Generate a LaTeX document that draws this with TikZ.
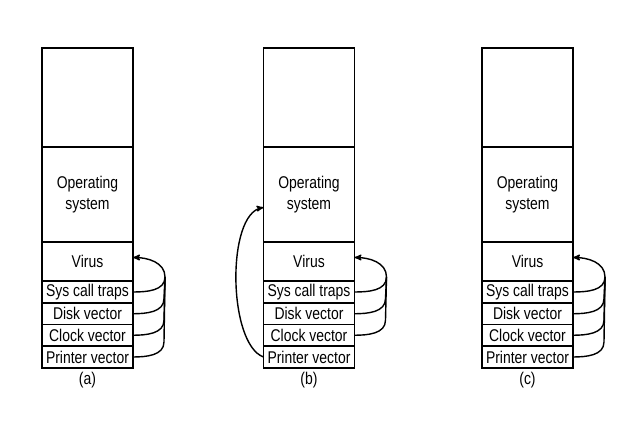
\documentclass[tikz,border=0pt]{standalone}
\usepackage{fontspec}
\setmainfont{Liberation Sans}[FakeStretch=0.82]
\usetikzlibrary{arrows,positioning,calc}
\tikzset{
	every node/.style={font=\fontsize{17}{21}\selectfont},
	memblock/.style={
		draw,
		line width=1.6pt,
		minimum width=91pt,
		inner sep=0pt,
		outer sep=0pt,
		align=center
	},
	vecline/.style={
		draw,
		line width=1.4pt,
		>=stealth'
	}
}
\begin{document}
\begin{tikzpicture}[x=1pt,y=1pt]
	\useasboundingbox (0,0) rectangle (619,435);

	% (a)
	\node[memblock, minimum height=99pt] (freea) at (87.5,337.5) {};
	\node[memblock, minimum height=95pt, below=0pt of freea] (osa) {Operating\\system};
	\node[memblock, minimum height=39pt, below=0pt of osa] (virusa) {Virus};
	\node[memblock, minimum height=22pt, below=0pt of virusa] (trapsa) {Sys call traps};
	\node[memblock, minimum height=21.5pt, below=0pt of trapsa] (diska) {Disk vector};
	\node[memblock, minimum height=21.5pt, below=0pt of diska] (clocka) {Clock vector};
	\node[memblock, minimum height=22pt, below=0pt of clocka] (printa) {Printer vector};
	\node[below=1pt of printa] (laba) {(a)};

	\coordinate (hooka) at ($(trapsa.east)+(32,15)$);
	\draw[vecline,->] (trapsa.east) to[out=0,in=-90] (hooka) to[out=90,in=0] ([yshift=4pt]virusa.east);
	\draw[vecline] (diska.east) to[out=0,in=-90] ++(31,15) -- (hooka);
	\draw[vecline] (clocka.east) to[out=0,in=-90] ++(31,15) -- (hooka);
	\draw[vecline] (printa.east) to[out=0,in=-90] ++(31,15) -- (hooka);

	% (b)
	\node[memblock, minimum height=99pt] (freeb) at (309,337.5) {};
	\node[memblock, minimum height=95pt, below=0pt of freeb] (osb) {Operating\\system};
	\node[memblock, minimum height=39pt, below=0pt of osb] (virusb) {Virus};
	\node[memblock, minimum height=22pt, below=0pt of virusb] (trapsb) {Sys call traps};
	\node[memblock, minimum height=21.5pt, below=0pt of trapsb] (diskb) {Disk vector};
	\node[memblock, minimum height=21.5pt, below=0pt of diskb] (clockb) {Clock vector};
	\node[memblock, minimum height=22pt, below=0pt of clockb] (printb) {Printer vector};
	\node[below=1pt of printb] (labb) {(b)};

	\coordinate (hookb) at ($(trapsb.east)+(32,15)$);
	\draw[vecline,->] (trapsb.east) to[out=0,in=-90] (hookb) to[out=90,in=0] ([yshift=4pt]virusb.east);
	\draw[vecline] (diskb.east) to[out=0,in=-90] ++(31,15) -- (hookb);
	\draw[vecline] (clockb.east) to[out=0,in=-90] ++(31,15) -- (hookb);
	\draw[vecline,->] (printb.west) to[out=160,in=190,looseness=0.65] ([yshift=-13pt]osb.west);

	% (c)
	\node[memblock, minimum height=99pt] (freec) at (527.5,337.5) {};
	\node[memblock, minimum height=95pt, below=0pt of freec] (osc) {Operating\\system};
	\node[memblock, minimum height=39pt, below=0pt of osc] (virusc) {Virus};
	\node[memblock, minimum height=22pt, below=0pt of virusc] (trapsc) {Sys call traps};
	\node[memblock, minimum height=21.5pt, below=0pt of trapsc] (diskc) {Disk vector};
	\node[memblock, minimum height=21.5pt, below=0pt of diskc] (clockc) {Clock vector};
	\node[memblock, minimum height=22pt, below=0pt of clockc] (printc) {Printer vector};
	\node[below=1pt of printc] (labc) {(c)};

	\coordinate (hookc) at ($(trapsc.east)+(32,15)$);
	\draw[vecline,->] (trapsc.east) to[out=0,in=-90] (hookc) to[out=90,in=0] ([yshift=4pt]virusc.east);
	\draw[vecline] (diskc.east) to[out=0,in=-90] ++(31,15) -- (hookc);
	\draw[vecline] (clockc.east) to[out=0,in=-90] ++(31,15) -- (hookc);
	\draw[vecline] (printc.east) to[out=0,in=-90] ++(31,15) -- (hookc);

\end{tikzpicture}
\end{document}
